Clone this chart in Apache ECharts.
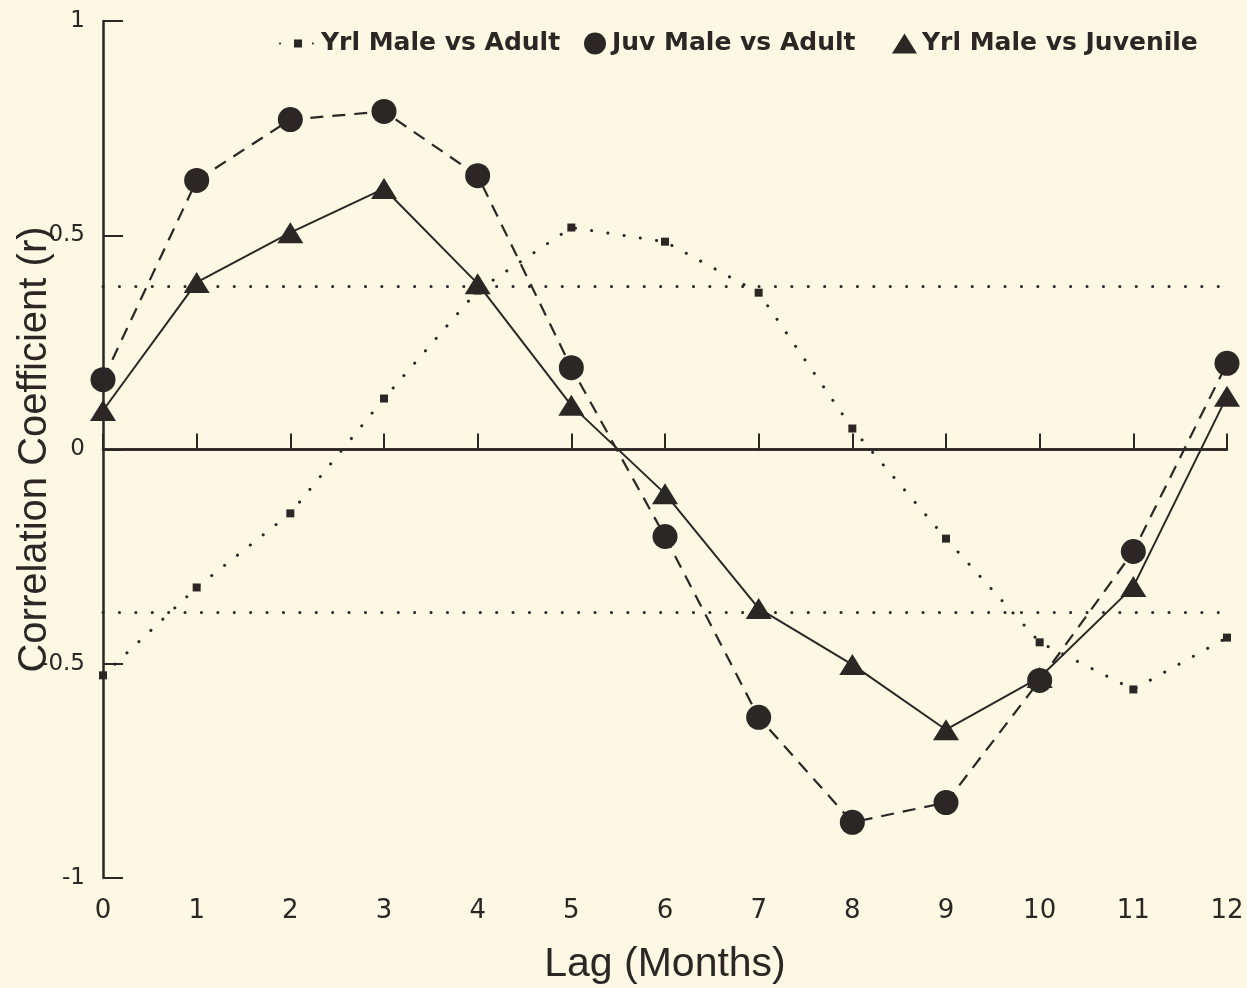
<!DOCTYPE html>
<html>
<head>
<meta charset="utf-8">
<script src="https://cdn.jsdelivr.net/npm/echarts@6/dist/echarts.min.js"></script>
<style>
html,body{margin:0;padding:0;background:#fcf8e3;}
#chart{width:1247px;height:988px;}
</style>
</head>
<body>
<div id="chart"></div>
<script>
// ---- data ----
var lags = [0,1,2,3,4,5,6,7,8,9,10,11,12];
var yrlMaleVsAdult = [-0.527,-0.322,-0.149,0.119,0.371,0.518,0.485,0.366,0.049,-0.208,-0.450,-0.560,-0.439];
var juvMaleVsAdult = [0.163,0.628,0.770,0.789,0.639,0.191,-0.203,-0.625,-0.870,-0.824,-0.539,-0.238,0.201];
var yrlMaleVsJuvenile = [0.091,0.390,0.506,0.609,0.387,0.103,-0.103,-0.371,-0.502,-0.654,-0.532,-0.320,0.124];
var seriesNames = ['Yrl Male vs Adult','Juv Male vs Adult','Yrl Male vs Juvenile'];
var significanceLevels = [0.378,-0.378];
var zeroLevel = 0;
var xTitle = 'Lag (Months)';
var yTitle = 'Correlation Coefficient (r)';

var ink = '#2a2725';
function pairs(vals){ return lags.map(function(x,i){ return [x, vals[i]]; }); }

var chart = echarts.init(document.getElementById('chart'), null, {renderer:'canvas'});
var legendText = {fontFamily:'DejaVu Sans', fontWeight:'bold', fontSize:25, color:ink};

var markData = [{yAxis: zeroLevel, lineStyle:{type:'solid', width:2.5, color:ink}}];
significanceLevels.forEach(function(v){
  markData.push({yAxis: v, lineStyle:{type:[0.1,16.3], cap:'round', width:3, color:ink}});
});

chart.setOption({
  backgroundColor:'#fcf8e3',
  animation:false,
  grid:{left:103, right:20, top:21, bottom:110, outerBoundsMode:'none', containLabel:false},
  legend:[
    {data:[seriesNames[0]], left:274, top:26, itemWidth:36, itemHeight:10, textStyle:legendText, itemGap:0},
    {data:[{name:seriesNames[1], icon:'circle'}], left:579, top:26, itemWidth:24, itemHeight:22, textStyle:legendText},
    {data:[{name:seriesNames[2], icon:'triangle'}], left:887, top:26, itemWidth:25, itemHeight:20, textStyle:legendText}
  ],
  xAxis:{
    type:'value', min:0, max:12, interval:1,
    name:xTitle, nameLocation:'middle', nameGap:66, nameMoveOverlap:false,
    nameTextStyle:{fontFamily:'Liberation Sans', fontSize:41, color:ink},
    axisLine:{show:true, lineStyle:{color:ink, width:2.5}},
    axisTick:{show:true, inside:true, length:16, lineStyle:{color:ink, width:2}},
    axisLabel:{fontFamily:'DejaVu Sans', fontSize:26, color:ink, margin:20},
    splitLine:{show:false}
  },
  yAxis:{
    type:'value', min:-1, max:1, interval:0.5,
    name:yTitle, nameLocation:'middle', nameGap:48, nameMoveOverlap:false,
    nameTextStyle:{fontFamily:'Liberation Sans', fontSize:40, color:ink},
    axisLine:{show:true, lineStyle:{color:ink, width:2.5}},
    axisTick:{show:true, inside:true, length:20, lineStyle:{color:ink, width:2}},
    axisLabel:{fontFamily:'DejaVu Sans', fontSize:23, color:ink, margin:18},
    splitLine:{show:false}
  },
  series:[
    {
      name:seriesNames[0], type:'line', data:pairs(yrlMaleVsAdult),
      symbol:'rect', symbolSize:8, color:ink,
      itemStyle:{color:ink},
      lineStyle:{color:ink, width:3, type:[0.1,16.3], cap:'round'},
      markLine:{silent:true, symbol:['none','none'], label:{show:false}, data:markData},
      z:2
    },
    {
      name:seriesNames[1], type:'line', data:pairs(juvMaleVsAdult),
      symbol:'circle', symbolSize:25, color:ink,
      itemStyle:{color:ink},
      lineStyle:{color:ink, width:2.2, type:[13,9]},
      z:3
    },
    {
      name:seriesNames[2], type:'line', data:pairs(yrlMaleVsJuvenile),
      symbol:'triangle', symbolSize:[26,21], color:ink,
      itemStyle:{color:ink},
      lineStyle:{color:ink, width:2, type:'solid'},
      z:4
    }
  ]
});
</script>
</body>
</html>
